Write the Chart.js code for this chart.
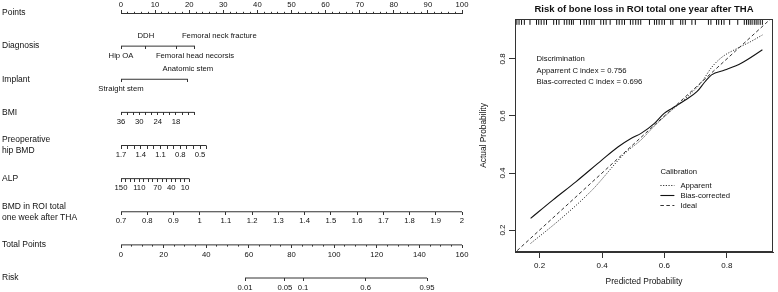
<!DOCTYPE html>
<html>
<head>
<meta charset="utf-8">
<script src="https://cdn.jsdelivr.net/npm/chart.js@4.4.1/dist/chart.umd.min.js"></script>
<style>
  body { margin: 0; background: #fff; }
  #wrap { position: relative; width: 778px; height: 292px; }
  #nomo { position: absolute; left: 0; top: 0; }
  #calib { position: absolute; left: 478px; top: 0; }
</style>
</head>
<body>
<div id="wrap">
  <canvas id="nomo" width="478" height="292"></canvas>
  <canvas id="calib" width="300" height="292"></canvas>
</div>
<script>
// ---------------------------------------------------------------- NOMOGRAM DATA

var rowNames = ['Points', 'Diagnosis', 'Implant', 'BMI', ['Preoperative', 'hip BMD'], 'ALP',
                ['BMD in ROI total', 'one week after THA'], 'Total Points', 'Risk'];

var pointsMax = 100, pointsStep = 2, pointsLabelStep = 10;

var diagNames = ['Hip OA', 'DDH', 'Femoral head necorsis', 'Femoral neck fracture'];
var diagPts   = [0, 7.3, 21.7, 16.4];
var diagSide  = [1, -1, 1, -1];           // 1 = under the line, -1 = over it
var diagAlign = ['center', 'center', 'center', 'left'];

var implantNames = ['Straight stem', 'Anatomic stem'];
var implantPts   = [0, 19.6];
var implantSide  = [1, -1];

// continuous rows: value at 0 points, value at the end, points at the end
var bmiRange = [36, 12],   bmiEndPts = 21.5, bmiStep = 2,   bmiLabels = [36, 30, 24, 18];
var bmdRange = [1.7, 0.4], bmdEndPts = 25.1, bmdStep = 0.1, bmdLabels = [1.7, 1.4, 1.1, 0.8, 0.5];
var alpRange = [150, 0],   alpEndPts = 20.1, alpStep = 10,  alpLabels = [150, 110, 70, 40, 10];
var roiRange = [0.7, 2.0], roiEndPts = 100,  roiStep = 0.1;

var totalMax = 160, totalStep = 5, totalLabelStep = 20;

var riskPts    = [58.2, 76.9, 85.4, 114.8, 143.6];
var riskLabels = ['0.01', '0.05', '0.1', '0.6', '0.95'];

// ---------------------------------------------------------------- CALIBRATION DATA

var plotTitle = 'Risk of bone loss in ROI total one year after THA';
var cApparent = 0.756, cBias = 0.696;

var apparentX = [0.171, 0.263, 0.368, 0.473, 0.525, 0.568, 0.615, 0.678, 0.720, 0.751, 0.783, 0.835, 0.877, 0.914];
var apparentY = [0.153, 0.235, 0.340, 0.469, 0.516, 0.565, 0.612, 0.672, 0.720, 0.770, 0.805, 0.838, 0.861, 0.884];

var biasX = [0.171, 0.242, 0.316, 0.400, 0.452, 0.494, 0.525, 0.568, 0.599, 0.625, 0.667, 0.704, 0.730, 0.751, 0.793, 0.846, 0.914];
var biasY = [0.241, 0.305, 0.369, 0.446, 0.492, 0.522, 0.539, 0.574, 0.609, 0.627, 0.656, 0.685, 0.720, 0.744, 0.761, 0.785, 0.832];

var idealX = [0, 1], idealY = [0, 1];

var rugX = [0.127, 0.134, 0.142, 0.151, 0.169, 0.190, 0.197, 0.205, 0.214, 0.222, 0.245, 0.254, 0.262,
            0.279, 0.287, 0.295, 0.302, 0.308, 0.331, 0.342, 0.350, 0.359, 0.367, 0.375, 0.396, 0.405,
            0.413, 0.426, 0.447, 0.455, 0.464, 0.472, 0.491, 0.499, 0.508, 0.516, 0.524, 0.552, 0.568,
            0.575, 0.583, 0.592, 0.600, 0.620, 0.627, 0.652, 0.659, 0.667, 0.688, 0.699, 0.741, 0.749,
            0.767, 0.774, 0.783, 0.791, 0.809, 0.835, 0.856, 0.863, 0.869, 0.875, 0.881, 0.888, 0.894,
            0.900, 0.907, 0.914];
var rugLevel = 0.93;

// ---------------------------------------------------------------- COMMON

var FONT = '"Liberation Sans", Arial, Helvetica, sans-serif';
Chart.defaults.font.family = FONT;
Chart.defaults.color = '#111';
Chart.defaults.animation = false;

function xy(xs, ys) { return xs.map(function (x, i) { return {x: x, y: ys[i]}; }); }

function near(list, v) {
  return list.some(function (l) { return Math.abs(l - v) < 1e-6; });
}

// ---------------------------------------------------------------- NOMOGRAM

// axis bounds so that range[0] sits at 0 points and range[1] at endPts points
function spanAxis(range, endPts) {
  var at100 = range[0] + (range[1] - range[0]) * pointsMax / endPts;
  return range[0] < range[1] ? {min: range[0], max: at100, reverse: false}
                             : {min: at100, max: range[0], reverse: true};
}

function rowAxis(row, span, step, keep, label, minor) {
  return {
    type: 'linear', axis: 'x', position: {y: row},
    min: span.min, max: span.max, reverse: span.reverse,
    afterBuildTicks: keep,
    ticks: {stepSize: step, precision: 2, autoSkip: false, maxRotation: 0, minRotation: 0,
            padding: 2, font: {size: 7.7}, callback: label},
    grid: {drawOnChartArea: false, drawTicks: true, tickLength: 3, tickColor: '#333',
           tickBorderDash: minor || []},
    border: {display: false}
  };
}

function keepRange(range) {
  var lo = Math.min(range[0], range[1]) - 1e-6, hi = Math.max(range[0], range[1]) + 1e-6;
  return function (s) { s.ticks = s.ticks.filter(function (t) { return t.value >= lo && t.value <= hi; }); };
}
function keepList(list) {
  return function (s) { s.ticks = list.map(function (v) { return {value: v}; }); };
}
function pickLabels(list) {
  return function (v) { var r = Math.round(v * 100) / 100; return near(list, r) ? String(r) : ''; };
}

var ptsSpan = {min: 0, max: pointsMax, reverse: false};
var bmiSpan = spanAxis(bmiRange, bmiEndPts);
var bmdSpan = spanAxis(bmdRange, bmdEndPts);
var alpSpan = spanAxis(alpRange, alpEndPts);
var roiSpan = spanAxis(roiRange, roiEndPts);
var totSpan = {min: 0, max: totalMax, reverse: false};

function rowLine(axisId, row, a, b) {
  return {type: 'line', xAxisID: axisId, yAxisID: 'y', data: [{x: a, y: row}, {x: b, y: row}],
          borderColor: '#333', borderWidth: 1, pointRadius: 0, clip: false};
}

var catRows = [
  {axis: 'xDiag', row: 1, names: diagNames, pts: diagPts, side: diagSide, align: diagAlign},
  {axis: 'xImpl', row: 2, names: implantNames, pts: implantPts, side: implantSide, align: ['center', 'center']}
];

var catLabelPlugin = {
  id: 'catLabels',
  afterDraw: function (chart) {
    var ctx = chart.ctx, yS = chart.scales.y;
    ctx.save();
    ctx.font = '7.7px ' + FONT;
    ctx.fillStyle = '#111';
    ctx.textBaseline = 'middle';
    catRows.forEach(function (r) {
      var s = chart.scales[r.axis], y0 = yS.getPixelForValue(r.row);
      r.names.forEach(function (name, i) {
        var x = s.getPixelForValue(r.pts[i]);
        ctx.textAlign = r.align[i];
        ctx.fillText(name, x + (r.align[i] === 'left' ? 5 : 0), y0 + r.side[i] * 10);
      });
    });
    ctx.restore();
  }
};

new Chart(document.getElementById('nomo'), {
  type: 'line',
  data: {
    datasets: [
      rowLine('xDiag', 1, 0, Math.max.apply(null, diagPts)),
      rowLine('xImpl', 2, 0, Math.max.apply(null, implantPts)),
      rowLine('xBmi', 3, bmiRange[0], bmiRange[1]),
      rowLine('xBmd', 4, bmdRange[0], bmdRange[1]),
      rowLine('xAlp', 5, alpRange[0], alpRange[1]),
      rowLine('xRoi', 6, roiRange[0], roiRange[1]),
      rowLine('xTot', 7, 0, totalMax),
      rowLine('xRisk', 8, riskPts[0], riskPts[riskPts.length - 1])
    ]
  },
  options: {
    responsive: false,
    events: [],
    layout: {padding: {left: 2, right: 16, top: 0, bottom: 14}},
    plugins: {legend: {display: false}, tooltip: {enabled: false}},
    scales: {
      x: {
        type: 'linear', position: 'top', min: 0, max: pointsMax,
        ticks: {stepSize: pointsStep, autoSkip: false, maxRotation: 0, padding: 0, font: {size: 7.7},
                callback: function (v) { return v % pointsLabelStep === 0 ? String(v) : ''; }},
        grid: {drawOnChartArea: false, tickLength: 3, tickColor: '#333',
               tickBorderDash: function (c) { return c.tick && c.tick.value % pointsLabelStep !== 0 ? [0, 1.8, 1.2, 20] : []; }},
        border: {display: true, color: '#333'},
        afterFit: function (s) { s.height = 13; }
      },
      y: {
        type: 'linear', position: 'left', min: 0, max: rowNames.length - 1, reverse: true,
        ticks: {stepSize: 1, autoSkip: false, crossAlign: 'far', font: {size: 8.5, lineHeight: 1.3},
                callback: function (v) { return rowNames[v]; }},
        grid: {display: false},
        border: {display: false},
        afterFit: function (s) { s.width = 119; }
      },
      xDiag: rowAxis(1, ptsSpan, 1, keepList(diagPts), function () { return ''; }),
      xImpl: rowAxis(2, ptsSpan, 1, keepList(implantPts), function () { return ''; }),
      xBmi: rowAxis(3, bmiSpan, bmiStep, keepRange(bmiRange), pickLabels(bmiLabels)),
      xBmd: rowAxis(4, bmdSpan, bmdStep, keepRange(bmdRange), pickLabels(bmdLabels)),
      xAlp: rowAxis(5, alpSpan, alpStep, keepRange(alpRange), pickLabels(alpLabels)),
      xRoi: rowAxis(6, roiSpan, roiStep, keepRange(roiRange),
                    function (v) { return String(Math.round(v * 10) / 10); }),
      xTot: rowAxis(7, totSpan, totalStep, keepRange([0, totalMax]),
                    function (v) { return v % totalLabelStep === 0 ? String(v) : ''; },
                    function (c) { return c.tick && c.tick.value % totalLabelStep !== 0 ? [1.6, 20] : []; }),
      xRisk: rowAxis(8, totSpan, 1, keepList(riskPts), function (v, i) { return riskLabels[i]; })
    }
  },
  plugins: [catLabelPlugin]
});

// ---------------------------------------------------------------- CALIBRATION PLOT

var boxPlugin = {
  id: 'box',
  afterDraw: function (chart) {
    var a = chart.chartArea, ctx = chart.ctx;
    ctx.save();
    ctx.strokeStyle = '#333';
    ctx.lineWidth = 1;
    ctx.strokeRect(Math.round(a.left) + 0.5, Math.round(a.top) + 0.5,
                   Math.round(a.right - a.left) - 1, Math.round(a.bottom - a.top) - 1);
    ctx.restore();
  }
};

var textPlugin = {
  id: 'discrimination',
  afterDraw: function (chart) {
    var ctx = chart.ctx, x = chart.scales.x.getPixelForValue(0.19), y = chart.scales.y.getPixelForValue(0.80);
    var lines = ['Discrimination',
                 'Apparrent C index = ' + cApparent.toFixed(3),
                 'Bias-corrected C index = ' + cBias.toFixed(3)];
    ctx.save();
    ctx.font = '7.7px ' + FONT;
    ctx.fillStyle = '#111';
    ctx.textBaseline = 'middle';
    ctx.textAlign = 'left';
    lines.forEach(function (t, i) { ctx.fillText(t, x, y + i * 11.5); });

    // calibration legend
    var lx = chart.scales.x.getPixelForValue(0.587), ly = chart.scales.y.getPixelForValue(0.405);
    ctx.fillText('Calibration', lx, ly);
    chart.data.datasets.slice(0, 3).forEach(function (d, i) {
      var yy = Math.round(ly + 13 + i * 10) + 0.5;
      ctx.strokeStyle = d.borderColor;
      ctx.lineWidth = d.borderWidth;
      ctx.setLineDash(d.borderDash || []);
      ctx.beginPath();
      ctx.moveTo(lx, yy);
      ctx.lineTo(lx + 14, yy);
      ctx.stroke();
      ctx.fillText(d.label, lx + 20, yy);
    });
    ctx.restore();
  }
};

new Chart(document.getElementById('calib'), {
  type: 'line',
  data: {
    datasets: [
      {label: 'Apparent', data: xy(apparentX, apparentY), borderColor: '#333', borderWidth: 1,
       borderDash: [1.2, 1.5], pointRadius: 0, cubicInterpolationMode: 'monotone'},
      {label: 'Bias-corrected', data: xy(biasX, biasY), borderColor: '#111', borderWidth: 1.1,
       pointRadius: 0, cubicInterpolationMode: 'monotone'},
      {label: 'Ideal', data: xy(idealX, idealY), borderColor: '#333', borderWidth: 1,
       borderDash: [3.5, 2.5], pointRadius: 0},
      {label: 'rug', type: 'scatter', data: rugX.map(function (x) { return {x: x, y: rugLevel}; }),
       pointStyle: 'line', rotation: 90, radius: 3, borderColor: '#111', borderWidth: 1}
    ]
  },
  options: {
    responsive: false,
    events: [],
    layout: {padding: {left: 0, right: 1, top: 0, bottom: 0}},
    plugins: {
      legend: {display: false},
      tooltip: {enabled: false},
      title: {display: true, text: plotTitle, fullSize: false, color: '#111',
              font: {size: 9.5, weight: 'bold'}, padding: {top: 3.5, bottom: 4.1}}
    },
    scales: {
      x: {
        type: 'linear', min: 0.121, max: 0.948,
        ticks: {stepSize: 0.2, includeBounds: false, padding: 3, font: {size: 8}, maxRotation: 0,
                callback: function (v) { return v.toFixed(1); }},
        grid: {drawOnChartArea: false, tickLength: 6, tickColor: '#333'},
        border: {display: true, color: '#333'},
        title: {display: true, text: 'Predicted Probability', font: {size: 8.4}, padding: {top: 0, bottom: 5}},
        afterFit: function (s) { s.height = 40; }
      },
      y: {
        type: 'linear', min: 0.123, max: 0.94,
        ticks: {stepSize: 0.2, includeBounds: false, padding: 1, font: {size: 8},
                minRotation: 90, maxRotation: 90, crossAlign: 'center',
                callback: function (v) { return v.toFixed(1); }},
        grid: {drawOnChartArea: false, tickLength: 6, tickColor: '#333'},
        border: {display: true, color: '#333'},
        title: {display: true, text: 'Actual Probability', font: {size: 8.4}, padding: {top: 1, bottom: 0}},
        afterFit: function (s) { s.width = 37; }
      }
    }
  },
  plugins: [boxPlugin, textPlugin]
});
</script>
</body>
</html>
